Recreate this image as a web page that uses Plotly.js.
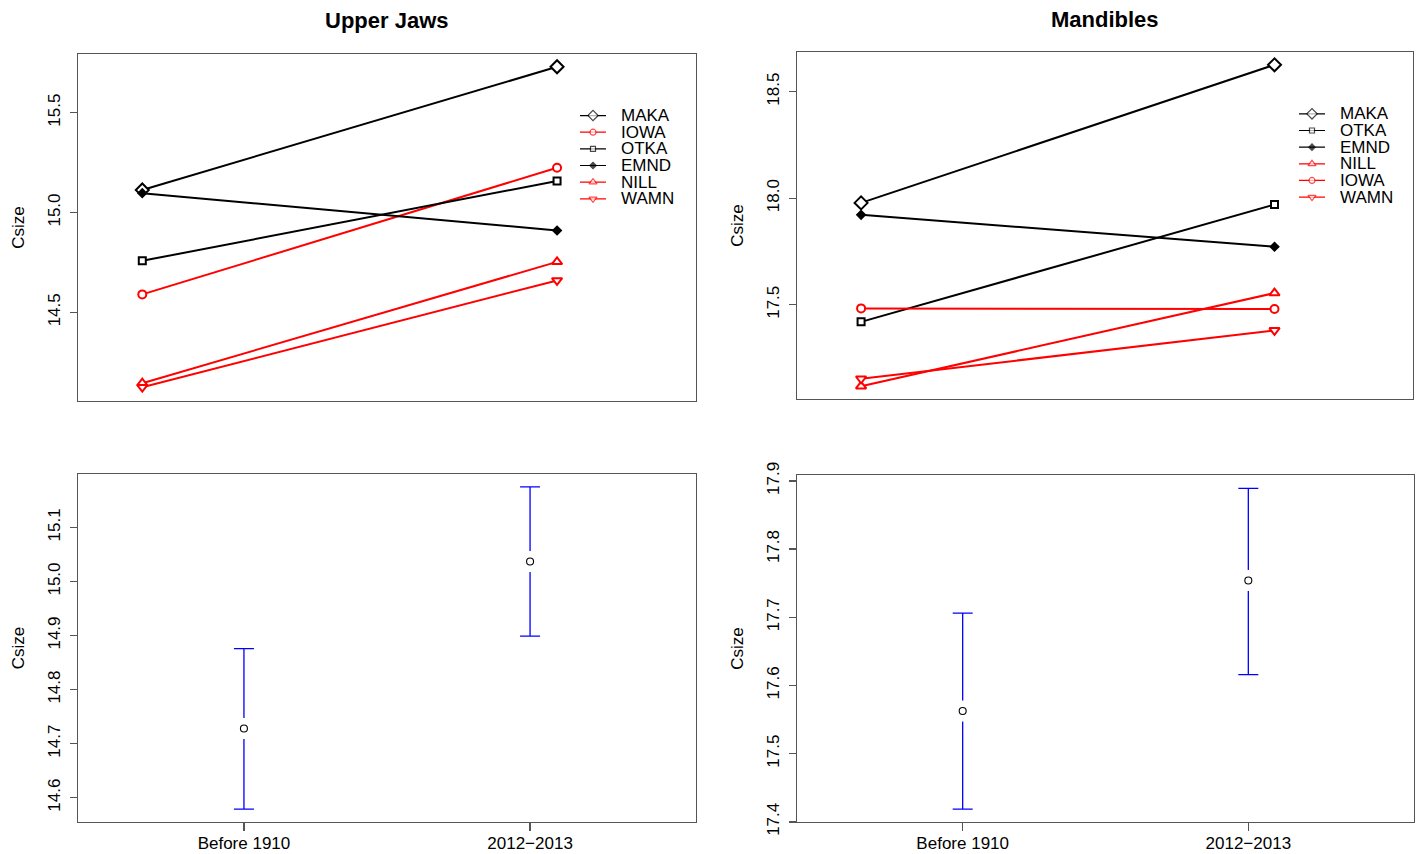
<!DOCTYPE html>
<html>
<head>
<meta charset="utf-8">
<script src="https://cdn.plot.ly/plotly-3.0.1.min.js"></script>
<style>html,body{margin:0;padding:0;background:#fff;}#chart{width:1419px;height:854px;}</style>
</head>
<body>
<div id="chart"></div>
<script>
// ---------------- data ----------------
const periods = ['Before 1910', '2012\u22122013'];

const ujSeries = ['MAKA', 'IOWA', 'OTKA', 'EMND', 'NILL', 'WAMN'];
const ujBefore = [15.113, 14.590, 14.758, 15.097, 14.145, 14.125];
const ujAfter  = [15.730, 15.224, 15.158, 14.910, 14.753, 14.660];

const mdSeries = ['MAKA', 'OTKA', 'EMND', 'NILL', 'IOWA', 'WAMN'];
const mdBefore = [17.978, 17.420, 17.922, 17.118, 17.483, 17.153];
const mdAfter  = [18.626, 17.970, 17.772, 17.555, 17.480, 17.380];

const ujMean  = [14.728, 15.037];
const ujLower = [14.579, 14.899];
const ujUpper = [14.876, 15.175];

const mdMean  = [17.5625, 17.754];
const mdLower = [17.4186, 17.616];
const mdUpper = [17.706, 17.889];

// ---------------- styles ----------------
const W = 1419, H = 854;
const FONT = 'Liberation Sans, Arial, Helvetica, sans-serif';
const AXC = '#555555';
const styleOf = {
  MAKA: {color: '#000000', symbol: 'diamond', size: 10, fill: '#ffffff'},
  IOWA: {color: '#ff0000', symbol: 'circle', size: 8, fill: '#ffffff'},
  OTKA: {color: '#000000', symbol: 'square', size: 7, fill: '#ffffff'},
  EMND: {color: '#000000', symbol: 'diamond', size: 6, fill: '#000000'},
  NILL: {color: '#ff0000', symbol: 'triangle-up', size: 9, fill: '#ffffff'},
  WAMN: {color: '#ff0000', symbol: 'triangle-down', size: 9, fill: '#ffffff'}
};
const xPos = periods.map((p, i) => i + 1);

const px = v => v / W;
const py = v => 1 - v / H;

const traces = [];
const annotations = [];

function linePanel(names, before, after, xa, ya, lxa, lya) {
  names.forEach((n, i) => {
    const s = styleOf[n];
    traces.push({
      x: xPos, y: [before[i], after[i]], xaxis: xa, yaxis: ya,
      mode: 'lines+markers', type: 'scatter', showlegend: false, hoverinfo: 'skip',
      line: {color: s.color, width: 2},
      marker: {symbol: s.symbol, size: s.size, color: s.fill, line: {color: s.color, width: 2}}
    });
    // legend row
    traces.push({
      x: [0, 13, 26], y: [i, i, i], xaxis: lxa, yaxis: lya,
      mode: 'lines+markers', type: 'scatter', showlegend: false, hoverinfo: 'skip',
      line: {color: s.color, width: 1.2},
      marker: {symbol: s.symbol, size: [0, Math.max(5, s.size - 2), 0], color: s.fill, line: {color: s.color, width: 1.2}}
    });
    annotations.push({
      xref: lxa, yref: lya, x: 39, y: i, text: n, showarrow: false,
      xanchor: 'left', yanchor: 'middle', font: {family: FONT, size: 17, color: '#000'}
    });
  });
}

function ciPanel(mean, lower, upper, xa, ya) {
  traces.push({
    x: xPos, y: mean, xaxis: xa, yaxis: ya, type: 'scatter', mode: 'markers',
    showlegend: false, hoverinfo: 'skip',
    marker: {size: 1, color: 'rgba(0,0,0,0)'},
    error_y: {type: 'data', symmetric: false,
      array: mean.map((m, i) => upper[i] - m),
      arrayminus: mean.map((m, i) => m - lower[i]),
      color: '#0000ff', thickness: 1.3, width: 10}
  });
  traces.push({
    x: xPos, y: mean, xaxis: xa, yaxis: ya, type: 'scatter', mode: 'markers',
    showlegend: false, hoverinfo: 'skip',
    marker: {symbol: 'square', size: 21, color: '#ffffff', line: {width: 0}}
  });
  traces.push({
    x: xPos, y: mean, xaxis: xa, yaxis: ya, type: 'scatter', mode: 'markers',
    showlegend: false, hoverinfo: 'skip',
    marker: {symbol: 'circle-open', size: 7, color: '#000000', line: {width: 1.1}}
  });
}

linePanel(ujSeries, ujBefore, ujAfter, 'x', 'y', 'x5', 'y5');
linePanel(mdSeries, mdBefore, mdAfter, 'x2', 'y2', 'x6', 'y6');
ciPanel(ujMean, ujLower, ujUpper, 'x3', 'y3');
ciPanel(mdMean, mdLower, mdUpper, 'x4', 'y4');

function yAxis(dom, range, dtick, anchor) {
  return {
    domain: dom, range: range, anchor: anchor, dtick: dtick, tick0: 0, tickformat: '.1f',
    tickangle: -90, ticks: 'outside', ticklen: 7, tickwidth: 1.3, tickcolor: AXC,
    showline: true, mirror: true, linecolor: AXC, linewidth: 1.3,
    showgrid: false, zeroline: false, ticklabelstandoff: 3,
    tickfont: {family: FONT, size: 17, color: '#000'},
    title: {text: 'Csize', standoff: 16, font: {family: FONT, size: 17, color: '#000'}},
    fixedrange: true
  };
}
function xAxisTop(dom, range, anchor) {
  return {
    domain: dom, range: range, anchor: anchor, showticklabels: false, ticks: '',
    showline: true, mirror: true, linecolor: AXC, linewidth: 1.3,
    showgrid: false, zeroline: false, fixedrange: true
  };
}
function xAxisBottom(dom, range, anchor) {
  return {
    domain: dom, range: range, anchor: anchor,
    tickmode: 'array', tickvals: xPos, ticktext: periods,
    ticks: 'outside', ticklen: 8, tickwidth: 1.3, tickcolor: AXC,
    showline: true, mirror: true, linecolor: AXC, linewidth: 1.3,
    showgrid: false, zeroline: false, fixedrange: true, ticklabelstandoff: -3,
    tickfont: {family: FONT, size: 17, color: '#000'}
  };
}
function hidden(dom, range, anchor) {
  return {domain: dom, range: range, anchor: anchor, visible: false, fixedrange: true};
}

annotations.push({xref: 'paper', yref: 'paper', x: px(387), y: py(20), text: '<b>Upper Jaws</b>',
  showarrow: false, xanchor: 'center', yanchor: 'middle', font: {family: FONT, size: 22, color: '#000'}});
annotations.push({xref: 'paper', yref: 'paper', x: px(1105), y: py(19), text: '<b>Mandibles</b>',
  showarrow: false, xanchor: 'center', yanchor: 'middle', font: {family: FONT, size: 22, color: '#000'}});

const layout = {
  width: W, height: H, margin: {l: 0, r: 0, t: 0, b: 0},
  paper_bgcolor: '#fff', plot_bgcolor: 'rgba(0,0,0,0)', showlegend: false,
  font: {family: FONT, size: 17, color: '#000'},
  xaxis:  xAxisTop([px(78), px(696)], [0.845, 2.335], 'y'),
  yaxis:  yAxis([py(401), py(54)], [14.056, 15.794], 0.5, 'x'),
  xaxis2: xAxisTop([px(797), px(1413)], [0.845, 2.335], 'y2'),
  yaxis2: yAxis([py(399), py(52)], [17.058, 18.686], 0.5, 'x2'),
  xaxis3: xAxisBottom([px(78), px(696)], [0.42, 2.58], 'y3'),
  yaxis3: yAxis([py(822), py(474)], [14.555, 15.199], 0.1, 'x3'),
  xaxis4: xAxisBottom([px(797), px(1414)], [0.42, 2.58], 'y4'),
  yaxis4: yAxis([py(822), py(475)], [17.3998, 17.9086], 0.1, 'x4'),
  xaxis5: hidden([px(580), px(690)], [0, 110], 'y5'),
  yaxis5: hidden([py(207.1), py(107.2)], [5.5, -0.5], 'x5'),
  xaxis6: hidden([px(1299), px(1408)], [0, 109], 'y6'),
  yaxis6: hidden([py(205.4), py(105.5)], [5.5, -0.5], 'x6'),
  annotations: annotations
};

Plotly.newPlot('chart', traces, layout, {displayModeBar: false, staticPlot: true});
</script>
</body>
</html>
